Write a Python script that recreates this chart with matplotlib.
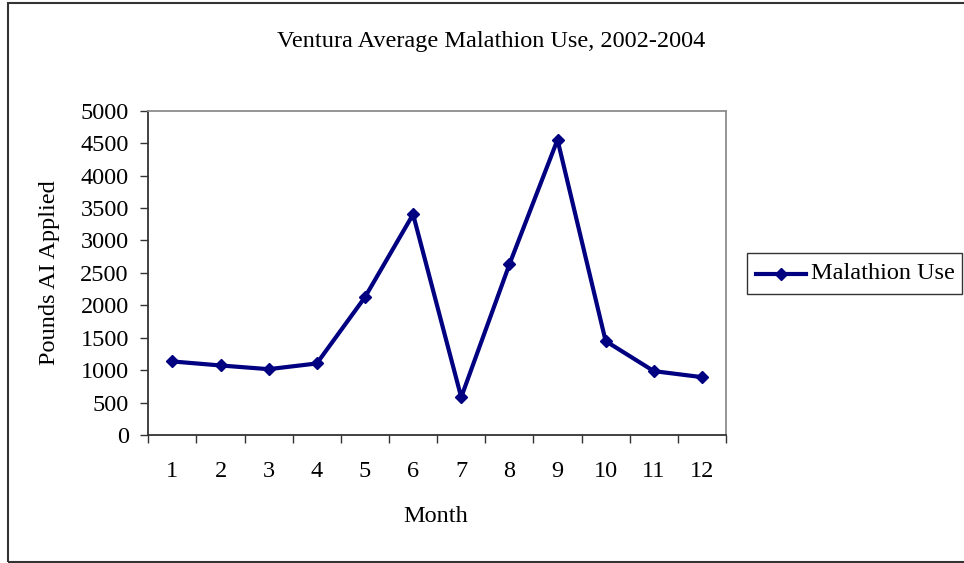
import matplotlib
matplotlib.use("Agg")
import matplotlib.pyplot as plt
from matplotlib.patches import Rectangle
from matplotlib.lines import Line2D

months = [1, 2, 3, 4, 5, 6, 7, 8, 9, 10, 11, 12]
month_labels = ["1", "2", "3", "4", "5", "6", "7", "8", "9", "10", "11", "12"]
malathion_use = [1134, 1072, 1015, 1103, 2124, 3402, 582, 2629, 4552, 1448, 985, 892]
yticks = [0, 500, 1000, 1500, 2000, 2500, 3000, 3500, 4000, 4500, 5000]

plt.rcParams['font.family'] = ['Liberation Serif', 'DejaVu Serif']
FS = 17.5

W, H = 964, 563
fig = plt.figure(figsize=(W / 100, H / 100), dpi=100)
fig.patch.set_facecolor('white')

# outer chart border (right edge clipped)
fig.patches.append(Rectangle((7.5 / W, 1 - 562 / H), (975 - 7.5) / W, (562 - 2.5) / H,
                             transform=fig.transFigure, fill=False,
                             edgecolor='#333333', linewidth=1.5))

left, right, top, bottom = 148.3, 726, 110.7, 435
ax = fig.add_axes([left / W, 1 - bottom / H, (right - left) / W, (bottom - top) / H])

navy = '#000080'
ax.plot(months, malathion_use, color=navy, linewidth=3.0, marker='D',
        markersize=6, markerfacecolor=navy, markeredgecolor=navy)

ax.set_xlim(0.5, 12.5)
ax.set_ylim(0, 5000)
ax.set_yticks(yticks)
ax.set_yticklabels([str(v) for v in yticks], fontsize=FS)
ax.set_xticks([i + 0.5 for i in range(0, 13)])
ax.set_xticklabels([])
ax.set_xticks(months, minor=True)
ax.set_xticklabels(month_labels, minor=True, fontsize=FS)
ax.tick_params(axis='x', which='major', direction='out', length=6, width=1, color='#333333')
ax.tick_params(axis='x', which='minor', length=0, pad=19)
ax.tick_params(axis='y', direction='out', length=6, width=1, color='#333333', pad=8)

for s in ['left', 'bottom']:
    ax.spines[s].set_color('#333333')
    ax.spines[s].set_linewidth(1.3)
for s in ['top', 'right']:
    ax.spines[s].set_color('#8c8c8c')
    ax.spines[s].set_linewidth(1.3)

fig.text(491 / W, 1 - 41 / H, "Ventura Average Malathion Use, 2002-2004",
         ha='center', va='center', fontsize=FS)
fig.text(50 / W, 1 - 273 / H, "Pounds AI Applied", ha='center', va='center',
         rotation=90, fontsize=FS)
fig.text(436 / W, 1 - 517 / H, "Month", ha='center', va='center', fontsize=FS)

# legend
fig.patches.append(Rectangle((747 / W, 1 - 294 / H), (962 - 747) / W, (294 - 253) / H,
                             transform=fig.transFigure, fill=False,
                             edgecolor='#333333', linewidth=1))
ly = 1 - 273.5 / H
fig.lines.append(Line2D([756 / W, 806 / W], [ly, ly], transform=fig.transFigure,
                        color=navy, linewidth=3.0))
fig.lines.append(Line2D([781 / W], [ly], transform=fig.transFigure, color=navy,
                        marker='D', markersize=6, linestyle='none'))
fig.text(811 / W, ly, "Malathion Use", ha='left', va='center', fontsize=FS)

fig.savefig("out.png", dpi=100, facecolor='white')
